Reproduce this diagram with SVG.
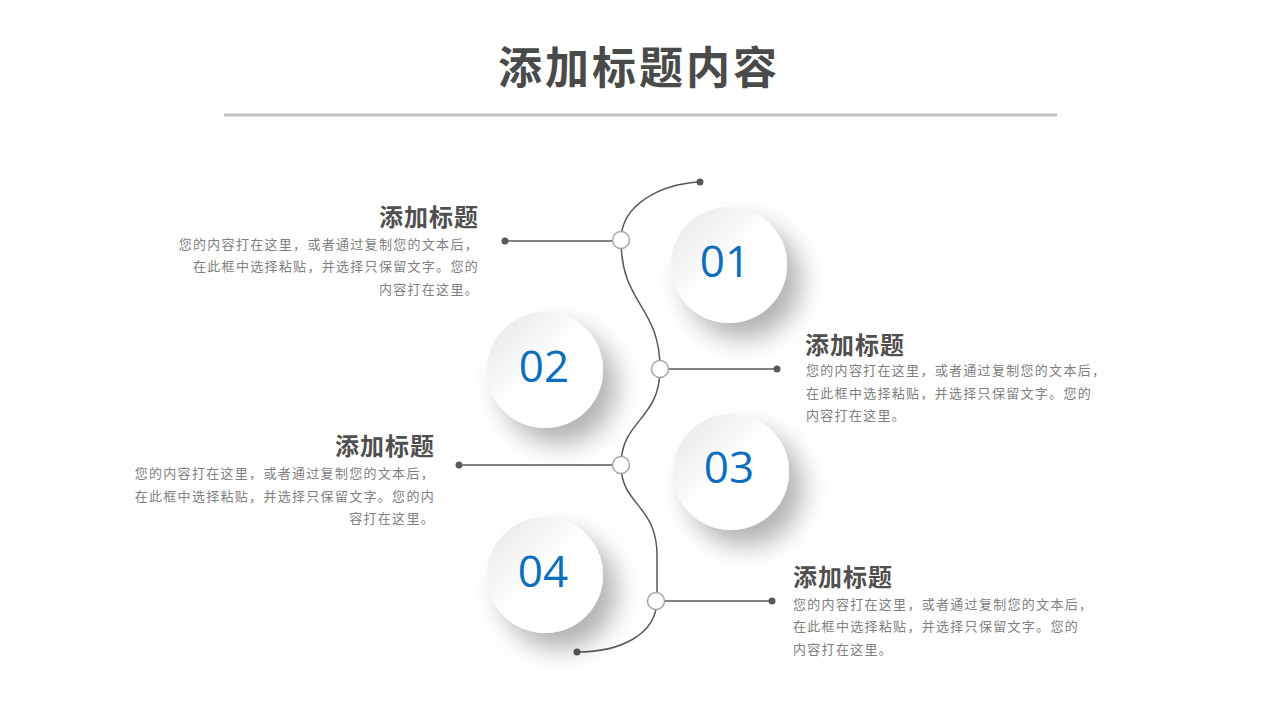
<svg xmlns="http://www.w3.org/2000/svg" width="1280" height="720" viewBox="0 0 1280 720">
<defs>
<style>
.title{font-family:"Noto Sans CJK SC","Noto Sans",sans-serif;font-weight:700;font-size:44px;fill:#4a4a4a;letter-spacing:3px}
.head{font-family:"Noto Sans CJK SC","Noto Sans",sans-serif;font-weight:700;font-size:24px;fill:#505050;letter-spacing:1px}
.body{font-family:"Noto Sans CJK SC","Noto Sans",sans-serif;font-size:13px;fill:#808080;letter-spacing:1.3px}
.num{font-family:"Open Sans","Noto Sans",sans-serif;font-size:44px;fill:#0d6ebc;text-anchor:middle}
.conn{stroke:#595959;stroke-width:1.5;fill:none}
.dot{fill:#595959}
.node{fill:#ffffff;stroke:#a6a6a6;stroke-width:1.5}
.ball{fill:url(#g);filter:url(#sh)}
</style>
<linearGradient id="g" x1="0" y1="0" x2="1" y2="1">
<stop offset="0" stop-color="#e6e6e6"/>
<stop offset="0.5" stop-color="#ffffff"/>
<stop offset="1" stop-color="#ffffff"/>
</linearGradient>
<filter id="sh" x="-60%" y="-60%" width="220%" height="220%">
<feDropShadow dx="14" dy="16" stdDeviation="13" flood-color="#000" flood-opacity="0.3"/>
</filter>
</defs>
<rect width="1280" height="720" fill="#ffffff"/>
<g id="title">
<text class="title" x="639" y="84" text-anchor="middle">添加标题内容</text>
<line x1="224" y1="115" x2="1057" y2="115" stroke="#c0c0c0" stroke-width="3"/>
</g>
<g id="connectors">
<path class="conn" d="M700,182 C660,184 621,205 621,240 C621,305 660,305 660,369 C660,420 621,420 621,465 C621,505 657,505 657,555 L657,601 C656,635 620,652 577,652"/>
<line class="conn" x1="505" y1="241" x2="613" y2="241"/>
<line class="conn" x1="668" y1="369" x2="777" y2="369"/>
<line class="conn" x1="459" y1="465" x2="613" y2="465"/>
<line class="conn" x1="664" y1="601" x2="772" y2="601"/>
<circle class="dot" cx="700" cy="182" r="3.5"/>
<circle class="dot" cx="577" cy="652" r="3.5"/>
<circle class="dot" cx="505" cy="241" r="3.5"/>
<circle class="dot" cx="777" cy="369" r="3.5"/>
<circle class="dot" cx="459" cy="465" r="3.5"/>
<circle class="dot" cx="772" cy="601" r="3.5"/>
<circle class="node" cx="621" cy="240" r="8.5"/>
<circle class="node" cx="660" cy="369" r="8.5"/>
<circle class="node" cx="621" cy="465" r="8.5"/>
<circle class="node" cx="656" cy="601" r="8.5"/>
</g>
<g id="step01">
<circle class="ball" cx="729" cy="265" r="58"/>
<text class="num" x="725" y="277">01</text>
</g>
<g id="step02">
<circle class="ball" cx="545" cy="370" r="58"/>
<text class="num" x="544" y="382">02</text>
</g>
<g id="step03">
<circle class="ball" cx="731" cy="472" r="58"/>
<text class="num" x="729" y="483">03</text>
</g>
<g id="step04">
<circle class="ball" cx="545" cy="575" r="58"/>
<text class="num" x="543" y="587">04</text>
</g>
<g id="text01" text-anchor="end">
<text class="head" x="479" y="226">添加标题</text>
<text class="body" x="479" y="249">您的内容打在这里，或者通过复制您的文本后，</text>
<text class="body" x="479" y="271">在此框中选择粘贴，并选择只保留文字。您的</text>
<text class="body" x="479" y="294">内容打在这里。</text>
</g>
<g id="text02">
<text class="head" x="805" y="354">添加标题</text>
<text class="body" x="806" y="375">您的内容打在这里，或者通过复制您的文本后，</text>
<text class="body" x="806" y="398">在此框中选择粘贴，并选择只保留文字。您的</text>
<text class="body" x="806" y="420">内容打在这里。</text>
</g>
<g id="text03" text-anchor="end">
<text class="head" x="435" y="455">添加标题</text>
<text class="body" x="435" y="478">您的内容打在这里，或者通过复制您的文本后，</text>
<text class="body" x="435" y="501">在此框中选择粘贴，并选择只保留文字。您的内</text>
<text class="body" x="435" y="523">容打在这里。</text>
</g>
<g id="text04">
<text class="head" x="793" y="586">添加标题</text>
<text class="body" x="793" y="609">您的内容打在这里，或者通过复制您的文本后，</text>
<text class="body" x="793" y="631">在此框中选择粘贴，并选择只保留文字。您的</text>
<text class="body" x="793" y="654">内容打在这里。</text>
</g>
</svg>
